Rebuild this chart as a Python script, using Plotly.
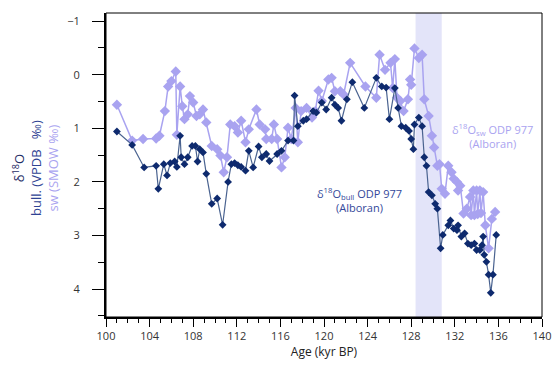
import plotly.graph_objects as go

# δ18O bulk (VPDB) - ODP 977
bull_age = [101.0, 102.4, 103.5, 104.6, 104.8, 105.3, 105.6, 105.9, 106.3, 106.5, 106.8, 106.9,
            107.2, 107.5, 107.9, 108.2, 108.4, 108.6, 108.9, 109.2, 109.7, 110.2, 110.7, 111.2,
            111.5, 111.8, 112.1, 112.4, 112.8, 113.1, 113.5, 114.0, 114.3, 114.7, 115.0, 115.7,
            116.1, 116.7, 117.2, 117.3, 117.6, 118.1, 118.4, 119.0, 119.3, 119.8, 120.2, 120.7,
            121.0, 121.3, 121.6, 122.1, 122.6, 123.7, 124.8, 125.3, 125.7, 126.0, 126.5, 126.8,
            127.1, 127.5, 127.8, 128.0, 128.2, 128.3, 128.7, 129.0, 129.2, 129.4, 129.6, 129.9,
            130.2, 130.4, 130.7, 130.9, 131.4, 131.6, 131.9, 132.2, 132.3, 132.6, 132.9, 133.2,
            133.5, 133.8, 134.0, 134.3, 134.5, 134.6, 134.7, 134.9, 135.1, 135.3, 135.5, 135.8]
bull_d18o = [1.06, 1.31, 1.73, 1.70, 2.13, 1.67, 1.88, 1.65, 1.62, 1.72, 1.14, 1.54,
             1.67, 1.54, 1.33, 1.33, 1.62, 1.39, 1.45, 1.85, 2.41, 2.31, 2.80, 2.00,
             1.67, 1.65, 1.69, 1.72, 1.79, 1.42, 1.73, 1.34, 1.54, 1.48, 1.61, 1.48,
             1.42, 1.23, 1.23, 0.39, 0.96, 0.86, 0.83, 0.68, 0.71, 0.52, 0.65, 0.43,
             0.56, 0.62, 0.86, 0.46, 0.14, 0.62, 0.06, 0.22, 0.24, 0.83, 0.25, 0.62,
             0.96, 0.99, 1.05, 1.20, 1.39, 0.93, 0.80, 0.96, 1.54, 1.70, 2.19, 2.25,
             2.41, 2.50, 3.24, 2.99, 2.81, 2.72, 2.87, 2.90, 2.81, 3.02, 2.96, 3.15,
             3.18, 3.15, 3.27, 3.27, 3.18, 3.02, 3.36, 3.49, 3.73, 4.07, 3.73, 2.99]

# δ18O seawater (SMOW) - ODP 977
sw_age = [101.0, 102.4, 103.4, 104.6, 104.9, 105.4, 105.7, 106.0, 106.4, 106.5, 106.8, 107.0,
          107.2, 107.5, 107.7, 108.0, 108.3, 108.6, 108.9, 109.2, 109.7, 110.2, 110.5, 110.8,
          111.1, 111.4, 111.8, 112.1, 112.4, 112.8, 113.1, 113.8, 114.1, 114.6, 114.7, 115.2,
          115.4, 115.7, 116.1, 116.4, 116.7, 117.0, 117.4, 117.6, 117.9, 118.4, 118.9, 119.2,
          119.5, 119.8, 120.4, 120.7, 121.0, 121.5, 121.8, 122.4, 123.8, 124.8, 125.1, 125.6,
          126.1, 126.3, 126.5, 126.7, 127.0, 127.3, 127.7, 127.9, 128.0, 128.3, 128.7, 129.0,
          129.2, 129.6, 129.9, 130.1, 130.4, 130.6, 130.8, 131.1, 131.4, 131.7, 131.9, 132.2,
          132.3, 132.5, 132.8, 133.1, 133.4, 133.5, 133.7, 133.8, 134.0, 134.1, 134.3, 134.4,
          134.6, 134.8, 135.1, 135.4, 135.7]
sw_d18o = [0.56, 1.23, 1.20, 1.19, 1.14, 0.68, 0.22, 0.12, -0.06, 1.12, 0.22, 0.59,
           0.83, 0.74, 0.40, 0.52, 0.77, 0.74, 0.65, 0.89, 1.33, 1.39, 1.51, 1.82,
           1.54, 0.93, 0.96, 1.08, 0.86, 1.26, 1.02, 0.65, 0.93, 1.02, 1.20, 1.20,
           0.93, 1.20, 1.73, 1.54, 0.99, 1.20, 0.62, 1.26, 0.68, 0.62, 0.80, 0.68,
           0.30, 0.49, 0.09, 0.06, 0.31, 0.31, 0.37, -0.22, 0.22, 0.43, -0.37, -0.09,
           -0.22, 0.25, -0.29, 0.43, 0.49, 0.68, 0.46, 0.09, 0.19, -0.49, -0.31, -0.37,
           0.46, 0.77, 1.14, 1.36, 1.70, 1.67, 2.13, 2.22, 1.70, 1.82, 1.94, 2.00,
           2.16, 2.07, 2.59, 2.50, 2.28, 2.62, 2.16, 2.62, 2.16, 2.60, 2.16, 2.58,
           2.19, 2.81, 3.24, 2.69, 2.56]

band_start, band_end = 128.4, 130.8
x_ticks = [100, 104, 108, 112, 116, 120, 124, 128, 132, 136, 140]
y_ticks = [-1, 0, 1, 2, 3, 4]

DARK = "#0e2a6e"
DARK_LINE = "#4a6390"
LIGHT = "#a9a3f0"
LABEL_BLUE = "#33489a"

fig = go.Figure()

fig.add_shape(type="rect", xref="x", yref="paper", x0=band_start, x1=band_end, y0=0, y1=1,
              fillcolor="#e3e4f9", line_width=0, layer="below")

fig.add_trace(go.Scatter(x=sw_age, y=sw_d18o, mode="lines+markers",
                         line=dict(color=LIGHT, width=1.5),
                         marker=dict(symbol="diamond", size=8, color=LIGHT),
                         showlegend=False))
fig.add_trace(go.Scatter(x=bull_age, y=bull_d18o, mode="lines+markers",
                         line=dict(color=DARK_LINE, width=1.2),
                         marker=dict(symbol="diamond", size=6, color=DARK),
                         showlegend=False))

font_family = "Open Sans, Lato, sans-serif"

fig.update_layout(
    width=553, height=372,
    margin=dict(l=106, r=11, t=13, b=55),
    plot_bgcolor="white", paper_bgcolor="white",
    font=dict(family=font_family, size=11, color="#333333"),
    xaxis=dict(range=[100, 140], tickvals=x_ticks, ticks="outside", ticklen=8,
               tickwidth=1.2, tickcolor="black", showline=True, linecolor="black",
               linewidth=2, showgrid=False, zeroline=False, automargin=False,
               ticklabeloverflow="allow",
               minor=dict(dtick=1, ticks="outside", ticklen=4, tickcolor="black", tickwidth=1),
               title=dict(text="Age (kyr BP)", font=dict(size=12, color="#222222"), standoff=4),
               tickfont=dict(size=11, color="#333333")),
    yaxis=dict(range=[4.52, -1.15], tickvals=y_ticks, ticks="outside", ticklen=12,
               tickwidth=1.2, tickcolor="black", showline=True, linecolor="black",
               linewidth=2, showgrid=False, zeroline=False, automargin=False,
               minor=dict(dtick=0.5, ticks="outside", ticklen=6, tickcolor="black", tickwidth=1),
               ticklabelstandoff=10,
               tickfont=dict(size=11, color="#333333")),
)

# thin frame on top/right
fig.add_shape(type="rect", xref="paper", yref="paper", x0=0, x1=1, y0=0, y1=1,
              line=dict(color="black", width=1), fillcolor="rgba(0,0,0,0)", layer="above")

fig.add_annotation(xref="paper", yref="paper", x=-0.163, y=0.49, xanchor="center", yanchor="middle",
                   textangle=-90, showarrow=False, align="center",
                   font=dict(size=13, family=font_family, color="#1f2d66"),
                   text="δ<sup>18</sup>O<br><span style='color:#2f4393'>bull. (VPDB &nbsp; ‰)</span>"
                        "<br><span style='color:#a9a3f0'>sw (SMOW ‰)</span>")

fig.add_annotation(x=123.3, y=2.33, xref="x", yref="y", showarrow=False, align="center",
                   font=dict(size=11, family=font_family, color=LABEL_BLUE),
                   text="δ<sup>18</sup>O<sub>bull</sub> ODP 977<br>(Alboran)")
fig.add_annotation(x=135.5, y=1.14, xref="x", yref="y", showarrow=False, align="center",
                   font=dict(size=11, family=font_family, color=LIGHT),
                   text="δ<sup>18</sup>O<sub>sw</sub> ODP 977<br>(Alboran)")

fig.write_html("out.html", config={"displayModeBar": False},
               post_script="document.body.style.margin='0';")
